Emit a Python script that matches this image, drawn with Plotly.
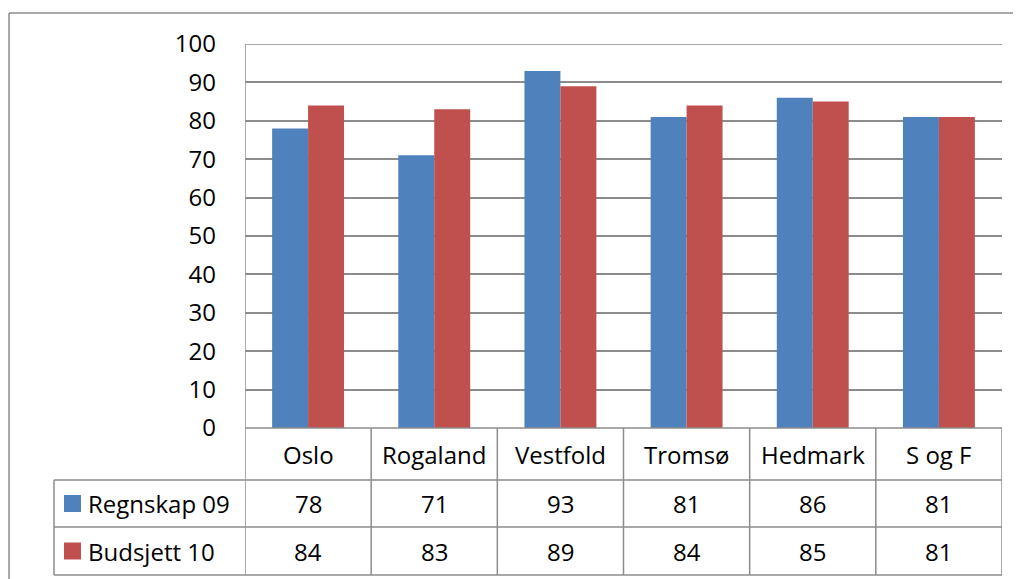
import plotly.graph_objects as go

categories = ["Oslo", "Rogaland", "Vestfold", "Tromsø", "Hedmark", "S og F"]
series_names = ["Regnskap 09", "Budsjett 10"]
regnskap_09 = [78, 71, 93, 81, 86, 81]
budsjett_10 = [84, 83, 89, 84, 85, 81]
y_ticks = [0, 10, 20, 30, 40, 50, 60, 70, 80, 90, 100]

colors = ["#4F81BD", "#C0504D"]
grid = "#8C8C8C"
FONT = "Open Sans"
FS = 24
W, H = 1021, 579
OFF = 8  # page body margin offset

def px_x(x):
    return (x - OFF) / W

def px_y(y):
    return (H - (y - OFF)) / H

fig = go.Figure()
for name, vals, col in zip(series_names, [regnskap_09, budsjett_10], colors):
    fig.add_trace(go.Bar(x=list(range(len(categories))), y=vals, name=name,
                         marker=dict(color=col, line=dict(width=0)),
                         showlegend=False))

plot_l, plot_r, plot_t, plot_b = 245, 1002, 44, 428
row_edges = [428, 480, 527, 575]
legend_left = 54

fig.update_layout(
    template="none",
    width=W, height=H,
    margin=dict(l=0, r=0, t=0, b=0, autoexpand=False),
    paper_bgcolor="white", plot_bgcolor="white",
    barmode="group", bargap=0.43, bargroupgap=0,
    font=dict(family=FONT, size=FS, color="black"),
    xaxis=dict(domain=[px_x(plot_l), px_x(plot_r)], range=[-0.5, len(categories) - 0.5],
               showticklabels=False, showgrid=False, zeroline=False,
               showline=False, ticks="", automargin=False),
    yaxis=dict(domain=[px_y(plot_b), px_y(plot_t)], range=[0, 100],
               tickvals=y_ticks, ticktext=[str(v) for v in y_ticks],
               showgrid=True, gridcolor=grid, gridwidth=1.5,
               zeroline=False, showline=False, ticks="", automargin=False,
               ticklabelstandoff=28,
               tickfont=dict(family=FONT, size=FS, color="black")),
)

shapes = []
line = dict(color=grid, width=1.5)
# outer border (top and left)
shapes.append(dict(type="line", xref="paper", yref="paper", x0=px_x(9), x1=px_x(1040),
                   y0=px_y(13), y1=px_y(13), line=line))
shapes.append(dict(type="line", xref="paper", yref="paper", x0=px_x(9), x1=px_x(9),
                   y0=px_y(13), y1=px_y(600), line=line))
# top gridline at 100
shapes.append(dict(type="line", xref="x", yref="y", x0=-0.5, x1=len(categories) - 0.5,
                   y0=100, y1=100, line=line))
# y axis line extended through table
shapes.append(dict(type="line", xref="x", yref="paper", x0=-0.5, x1=-0.5,
                   y0=px_y(row_edges[-1]), y1=px_y(plot_t), line=line))
# category separators in table
for i in range(1, len(categories) + 1):
    shapes.append(dict(type="line", xref="x", yref="paper", x0=i - 0.5, x1=i - 0.5,
                       y0=px_y(row_edges[-1]), y1=px_y(row_edges[0]), line=line))
# horizontal table lines
shapes.append(dict(type="line", xref="x", yref="paper", x0=-0.5, x1=len(categories) - 0.5,
                   y0=px_y(row_edges[0]), y1=px_y(row_edges[0]), line=line))
for ry in row_edges[1:]:
    shapes.append(dict(type="line", xref="paper", yref="paper", x0=px_x(legend_left),
                       x1=px_x(plot_r), y0=px_y(ry), y1=px_y(ry), line=line))
# legend column left border
shapes.append(dict(type="line", xref="paper", yref="paper", x0=px_x(legend_left),
                   x1=px_x(legend_left), y0=px_y(row_edges[-1]), y1=px_y(row_edges[1]),
                   line=line))

annotations = []
cat_y = px_y((row_edges[0] + row_edges[1]) / 2)
for i, c in enumerate(categories):
    annotations.append(dict(x=i, y=cat_y, xref="x", yref="paper", text=c, showarrow=False,
                            font=dict(family=FONT, size=FS, color="black"),
                            xanchor="center", yanchor="middle"))
for r, (name, vals, col) in enumerate(zip(series_names, [regnskap_09, budsjett_10], colors)):
    ry = px_y((row_edges[r + 1] + row_edges[r + 2]) / 2)
    for i, v in enumerate(vals):
        annotations.append(dict(x=i, y=ry, xref="x", yref="paper", text=str(v), showarrow=False,
                                font=dict(family=FONT, size=FS, color="black"),
                                xanchor="center", yanchor="middle"))
    # legend key
    shapes.append(dict(type="rect", xref="paper", yref="paper", x0=px_x(64), x1=px_x(81),
                       y0=ry - 8.5 / H, y1=ry + 8.5 / H, fillcolor=col, line=dict(width=0)))
    annotations.append(dict(x=px_x(86), y=ry, xref="paper", yref="paper", text=name,
                            showarrow=False, font=dict(family=FONT, size=FS, color="black"),
                            xanchor="left", yanchor="middle"))

fig.update_layout(shapes=shapes, annotations=annotations)
fig.write_html("out.html")
